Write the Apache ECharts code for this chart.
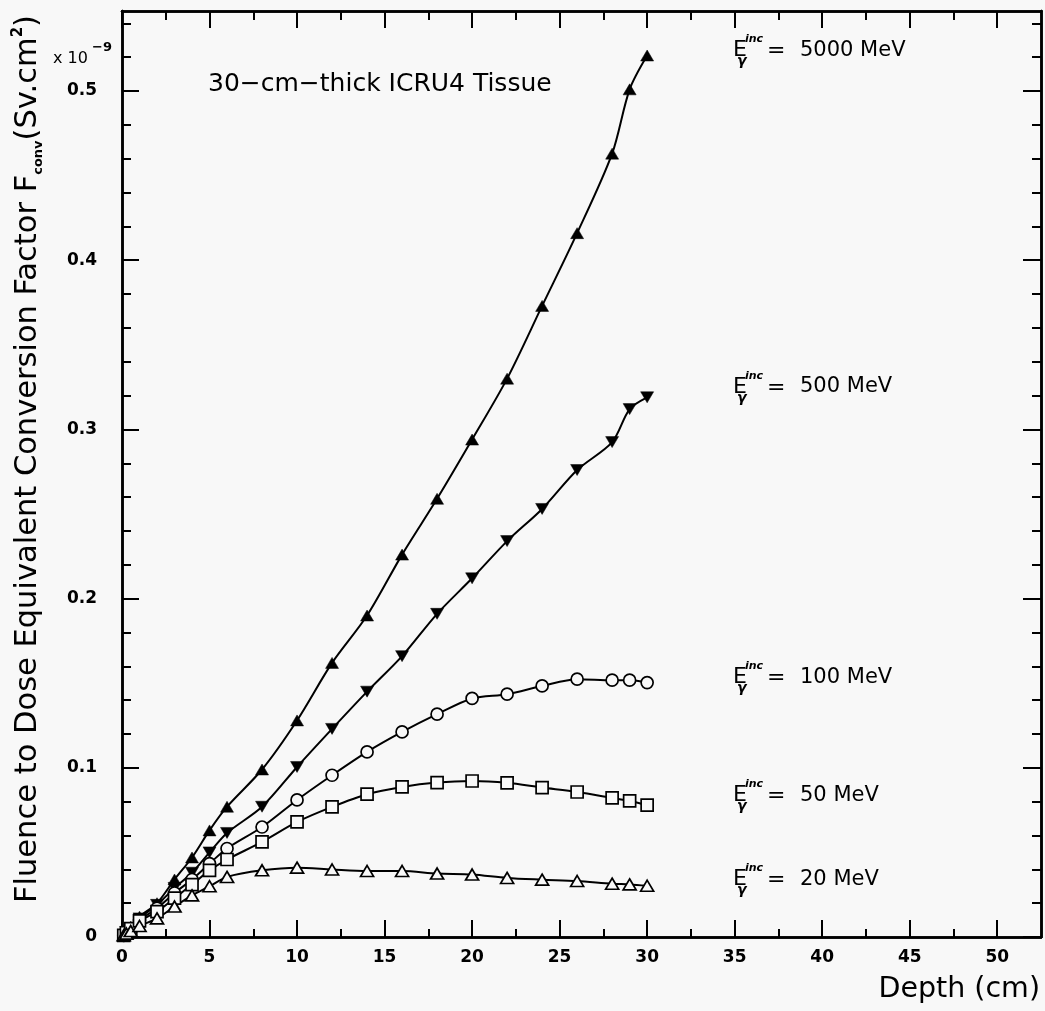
<!DOCTYPE html>
<html>
<head>
<meta charset="utf-8">
<script src="https://cdn.jsdelivr.net/npm/echarts@6/dist/echarts.min.js"></script>
<style>
  html, body { margin: 0; padding: 0; background: #f8f8f8; }
  #chart { width: 1045px; height: 1011px; }
</style>
</head>
<body>
<div id="chart"></div>
<script>
// Depth in tissue (cm)
const depth = [0.1, 0.25, 0.5, 1, 2, 3, 4, 5, 6, 8, 10, 12, 14, 16, 18, 20, 22, 24, 26, 28, 29, 30];

// Fluence-to-dose-equivalent conversion factor (x 1e-9 Sv.cm^2) per incident photon energy
const f5000 = [0.001, 0.003, 0.006, 0.012, 0.020, 0.034, 0.047, 0.063, 0.077, 0.099, 0.128, 0.162, 0.190, 0.226, 0.259, 0.294, 0.330, 0.373, 0.416, 0.463, 0.501, 0.521];
const f500  = [0.001, 0.003, 0.005, 0.011, 0.019, 0.029, 0.038, 0.050, 0.0615, 0.077, 0.1005, 0.123, 0.145, 0.166, 0.191, 0.212, 0.234, 0.253, 0.276, 0.2925, 0.312, 0.319];
const f100  = [0.001, 0.0025, 0.005, 0.010, 0.017, 0.026, 0.034, 0.0434, 0.0523, 0.065, 0.081, 0.0956, 0.1094, 0.1212, 0.1317, 0.141, 0.1435, 0.1484, 0.1524, 0.1518, 0.1518, 0.1504];
const f50   = [0.001, 0.0025, 0.005, 0.0095, 0.015, 0.023, 0.031, 0.0394, 0.0458, 0.0562, 0.068, 0.0769, 0.0844, 0.0887, 0.0913, 0.0922, 0.0911, 0.0883, 0.0857, 0.0822, 0.0804, 0.0779];
const f20   = [0.001, 0.002, 0.0035, 0.0065, 0.011, 0.018, 0.0246, 0.030, 0.0355, 0.0394, 0.041, 0.0399, 0.039, 0.039, 0.0375, 0.0369, 0.0349, 0.0339, 0.0331, 0.0315, 0.0311, 0.0303];

// Axis ticks
const xMajorTicks = [0, 5, 10, 15, 20, 25, 30, 35, 40, 45, 50];
const xMinorTicks = [2.5, 7.5, 12.5, 17.5, 22.5, 27.5, 32.5, 37.5, 42.5, 47.5];
const yMajorTicks = [0, 0.1, 0.2, 0.3, 0.4, 0.5];
const yMinorTicks = [0.02, 0.04, 0.06, 0.08, 0.12, 0.14, 0.16, 0.18, 0.22, 0.24, 0.26, 0.28,
                     0.32, 0.34, 0.36, 0.38, 0.42, 0.44, 0.46, 0.48, 0.52, 0.54];

// Curve labels (incident energy)
const energyNames = ['5000 MeV', '500 MeV', '100 MeV', '50 MeV', '20 MeV'];

const FONT = 'DejaVu Sans';
const BG = '#f8f8f8';
const X_MAX = 52.5;
const Y_MAX = 0.5473;

function mkAxis(dim, position, ticks, len, labels) {
  const ax = {
    type: 'value',
    position: position,
    min: 0,
    max: dim === 'x' ? X_MAX : Y_MAX,
    axisLine: { show: true, onZero: false, lineStyle: { color: '#000', width: 2.5 } },
    axisTick: { show: true, inside: true, length: len, customValues: ticks,
                lineStyle: { color: '#000', width: 2 } },
    axisLabel: { show: false },
    splitLine: { show: false },
    minorTick: { show: false }
  };
  if (labels) {
    ax.axisLabel = {
      show: true,
      customValues: ticks,
      color: '#000',
      fontFamily: FONT,
      fontWeight: 'bold',
      fontSize: 17,
      margin: dim === 'x' ? 12 : 25,
      formatter: v => (v === 0 ? '0' : (dim === 'x' ? String(v) : v.toFixed(1)))
    };
  }
  return ax;
}

function lineSeries(name, values, symbol, size, filled, rotate) {
  return {
    name: name,
    type: 'line',
    data: depth.map((d, i) => [d, values[i]]),
    smooth: 0.3,
    symbol: symbol,
    symbolSize: size,
    symbolRotate: rotate || 0,
    showAllSymbol: true,
    lineStyle: { color: '#000', width: 2 },
    itemStyle: filled
      ? { color: '#000', borderColor: '#000', borderWidth: 0.5 }
      : { color: BG, borderColor: '#000', borderWidth: 1.7 },
    emphasis: { disabled: true },
    z: 3
  };
}

function energyLabel(text, cy) {
  return [
    { type: 'text', x: 733, y: cy, style: { text: 'E', fontFamily: FONT, fontSize: 22, fill: '#000', verticalAlign: 'middle' } },
    { type: 'text', x: 737, y: cy + 11, style: { text: 'γ', fontFamily: FONT, fontSize: 14, fontStyle: 'italic', fontWeight: 'bold', fill: '#000', verticalAlign: 'middle' } },
    { type: 'text', x: 745, y: cy - 11, style: { text: 'inc', fontFamily: FONT, fontSize: 11, fontStyle: 'italic', fontWeight: 'bold', fill: '#000', verticalAlign: 'middle' } },
    { type: 'text', x: 767, y: cy + 1, style: { text: '=', fontFamily: FONT, fontSize: 22, fill: '#000', verticalAlign: 'middle' } },
    { type: 'text', x: 800, y: cy, style: { text: text, fontFamily: FONT, fontSize: 21, fill: '#000', verticalAlign: 'middle' } }
  ];
}

const labelCenters = [50.5, 387, 677.5, 795.5, 879.5];
let graphics = [];
energyNames.forEach((t, i) => { graphics = graphics.concat(energyLabel(t, labelCenters[i])); });

graphics.push(
  // vertical axis title
  {
    type: 'text', x: 28, y: 15, rotation: Math.PI / 2,
    style: {
      text: '{a|Fluence to Dose Equivalent Conversion Factor F}{sub|conv}{a|(Sv.cm}{sup|2}{a|)}',
      align: 'right', verticalAlign: 'middle',
      rich: {
        a: { fontFamily: FONT, fontSize: 30.5, fill: '#000', lineHeight: 34 },
        sub: { fontFamily: FONT, fontSize: 13, fontWeight: 'bold', fill: '#000', verticalAlign: 'bottom', lineHeight: 34 },
        sup: { fontFamily: FONT, fontSize: 15, fontWeight: 'bold', fill: '#000', verticalAlign: 'top', lineHeight: 34 }
      }
    }
  },
  // exponent
  { type: 'text', x: 53, y: 59, style: { text: 'x 10', fontFamily: FONT, fontSize: 16, fill: '#000', verticalAlign: 'middle' } },
  { type: 'text', x: 92, y: 48, style: { text: '−9', fontFamily: FONT, fontSize: 13, fontWeight: 'bold', fill: '#000', verticalAlign: 'middle' } },
  // material annotation
  { type: 'text', x: 208, y: 84, style: { text: '30−cm−thick ICRU4 Tissue', fontFamily: FONT, fontSize: 25, fill: '#000', verticalAlign: 'middle' } },
  // horizontal axis title
  { type: 'text', x: 1040, y: 990, style: { text: 'Depth (cm)', fontFamily: FONT, fontSize: 28.5, fill: '#000', align: 'right', verticalAlign: 'middle' } }
);

const chart = echarts.init(document.getElementById('chart'), null, { renderer: 'canvas' });
chart.setOption({
  backgroundColor: BG,
  animation: false,
  grid: { left: 122, right: 4, top: 11, bottom: 74 },
  xAxis: [
    mkAxis('x', 'bottom', xMajorTicks, 17, true),
    mkAxis('x', 'bottom', xMinorTicks, 8, false),
    mkAxis('x', 'top', xMajorTicks, 17, false),
    mkAxis('x', 'top', xMinorTicks, 9, false)
  ],
  yAxis: [
    mkAxis('y', 'left', yMajorTicks, 17, true),
    mkAxis('y', 'left', yMinorTicks, 9, false),
    mkAxis('y', 'right', yMajorTicks, 18, false),
    mkAxis('y', 'right', yMinorTicks, 9, false)
  ],
  series: [
    lineSeries('5000 MeV', f5000, 'triangle', [13, 11], true, 0),
    lineSeries('500 MeV', f500, 'triangle', [13, 11], true, 180),
    lineSeries('100 MeV', f100, 'circle', 12, false, 0),
    lineSeries('50 MeV', f50, 'rect', 12, false, 0),
    lineSeries('20 MeV', f20, 'triangle', [13, 11], false, 0)
  ],
  graphic: graphics
});
</script>
</body>
</html>
